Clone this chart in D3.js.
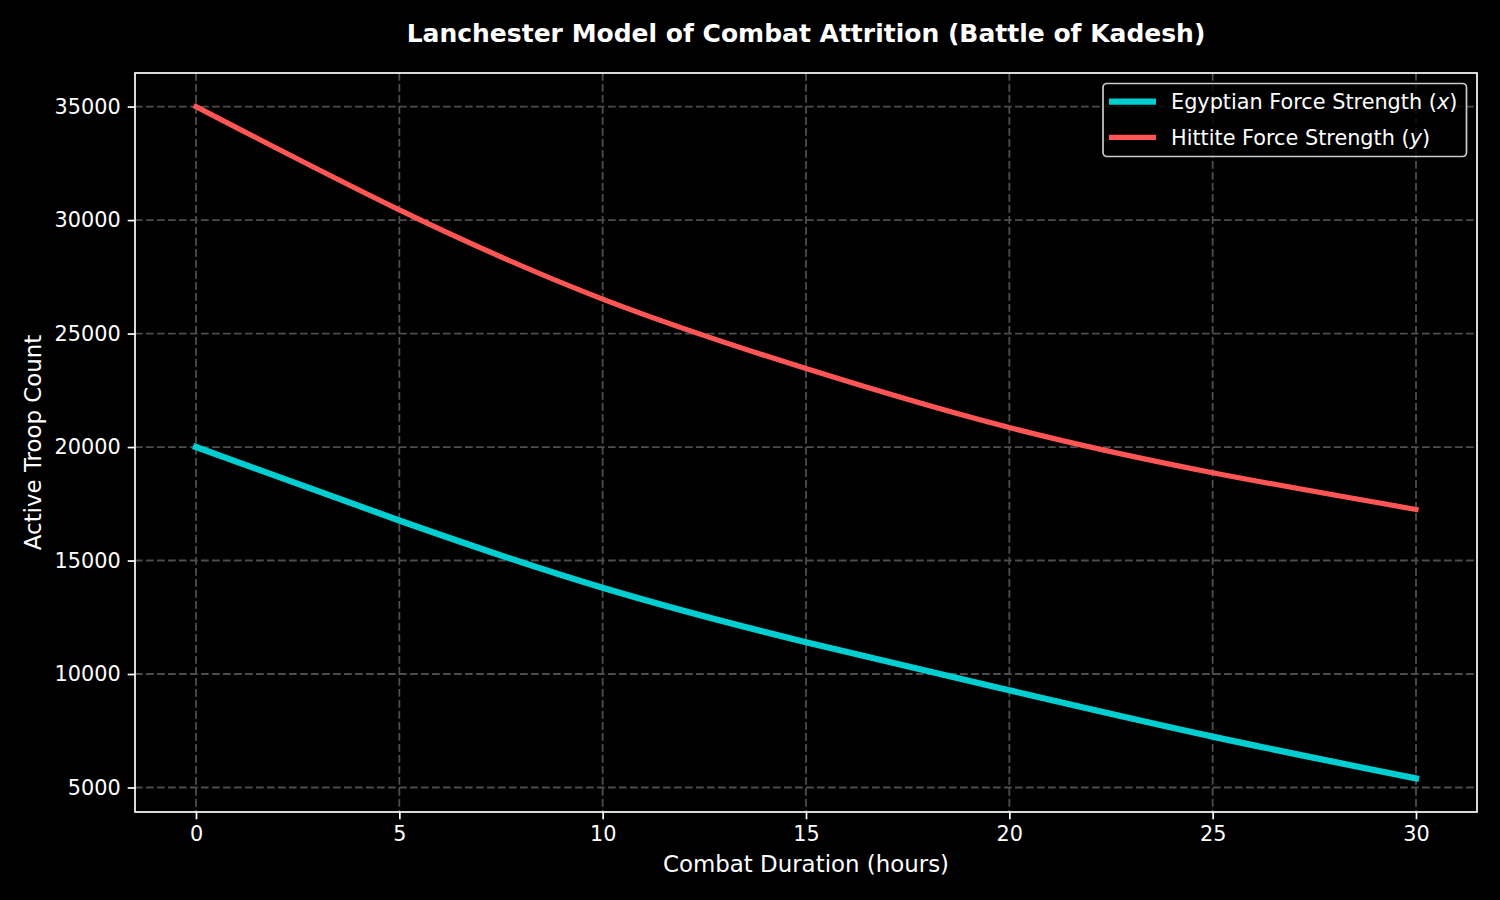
<!DOCTYPE html>
<html>
<head>
<meta charset="utf-8">
<script src="https://cdn.jsdelivr.net/npm/d3@7"></script>
<style>
  html, body { margin: 0; padding: 0; background: #000; }
  svg { display: block; font-family: 'DejaVu Sans', sans-serif; }
</style>
</head>
<body>
<svg id="chart"></svg>
<script>
// values
const hours = [0, 5, 10, 15, 20, 25, 30]
const egyptian = [20000, 16765, 13800, 11400, 9280, 7240, 5400]
const hittite = [35000, 30450, 26520, 23460, 20860, 18870, 17250]
const xTicks = [0, 5, 10, 15, 20, 25, 30]
const yTicks = [5000, 10000, 15000, 20000, 25000, 30000, 35000]

// canvas sizes and plot box
const width = 1500
const height = 900
const plotLeft = 135
const plotRight = 1477
const plotTop = 73
const plotBottom = 812

const svg = d3.select('#chart')
  .attr('width', width)
  .attr('height', height)

svg.append('rect')
  .attr('width', width)
  .attr('height', height)
  .attr('fill', '#000')

// matplotlib style 5% margins
const xMin = d3.min(hours)
const xMax = d3.max(hours)
const xPad = (xMax - xMin) * 0.05
const xScale = d3.scaleLinear()
  .domain([xMin - xPad, xMax + xPad])
  .range([plotLeft, plotRight])

const allY = egyptian.concat(hittite)
const yMin = d3.min(allY)
const yMax = d3.max(allY)
const yPad = (yMax - yMin) * 0.05
const yScale = d3.scaleLinear()
  .domain([yMin - yPad, yMax + yPad])
  .range([plotBottom, plotTop])

// grid
const gridColor = '#4d4d4d'
svg.append('g')
  .selectAll('line')
  .data(xTicks)
  .enter()
  .append('line')
  .attr('x1', (d) => xScale(d))
  .attr('x2', (d) => xScale(d))
  .attr('y1', plotTop)
  .attr('y2', plotBottom)
  .attr('stroke', gridColor)
  .attr('stroke-width', 1.8)
  .attr('stroke-dasharray', '7.7,3.3')

svg.append('g')
  .selectAll('line')
  .data(yTicks)
  .enter()
  .append('line')
  .attr('x1', plotLeft)
  .attr('x2', plotRight)
  .attr('y1', (d) => yScale(d))
  .attr('y2', (d) => yScale(d))
  .attr('stroke', gridColor)
  .attr('stroke-width', 1.8)
  .attr('stroke-dasharray', '7.7,3.3')

// series lines
const series = [
  { name: 'Egyptian Force Strength ', sym: 'x', values: egyptian, color: '#00CED1', lw: 6.2 },
  { name: 'Hittite Force Strength ', sym: 'y', values: hittite, color: '#FF5555', lw: 5.2 }
]

const line = d3.line()
  .x((d) => xScale(d[0]))
  .y((d) => yScale(d[1]))
  .curve(d3.curveNatural)

series.forEach((s) => {
  svg.append('path')
    .datum(hours.map((h, i) => [h, s.values[i]]))
    .attr('d', line)
    .attr('fill', 'none')
    .attr('stroke', s.color)
    .attr('stroke-width', s.lw)
    .attr('stroke-linecap', 'square')
    .attr('stroke-linejoin', 'round')
})

// axes
const xAxis = d3.axisBottom(xScale)
  .tickValues(xTicks)
  .tickSizeOuter(0)
  .tickSize(7.3)
  .tickPadding(7)
svg.append('g')
  .attr('transform', 'translate(0,' + plotBottom + ')')
  .call(xAxis)

const yAxis = d3.axisLeft(yScale)
  .tickValues(yTicks)
  .tickFormat(d3.format('d'))
  .tickSizeOuter(0)
  .tickSize(7.3)
  .tickPadding(7)
svg.append('g')
  .attr('transform', 'translate(' + plotLeft + ',0)')
  .call(yAxis)

svg.selectAll('.domain').remove()
svg.selectAll('.tick line')
  .attr('stroke', '#fff')
  .attr('stroke-width', 1.7)
svg.selectAll('.tick text')
  .attr('fill', '#fff')
  .style('font-size', '20.8px')
  .style('font-family', "'DejaVu Sans', sans-serif")

// frame
svg.append('rect')
  .attr('x', plotLeft)
  .attr('y', plotTop)
  .attr('width', plotRight - plotLeft)
  .attr('height', plotBottom - plotTop)
  .attr('fill', 'none')
  .attr('stroke', '#fff')
  .attr('stroke-width', 1.7)

// titles
svg.append('text')
  .attr('x', (plotLeft + plotRight) / 2)
  .attr('y', 41.5)
  .attr('text-anchor', 'middle')
  .attr('fill', '#fff')
  .style('font-size', '25px')
  .style('font-weight', 'bold')
  .text('Lanchester Model of Combat Attrition (Battle of Kadesh)')

svg.append('text')
  .attr('x', (plotLeft + plotRight) / 2)
  .attr('y', 872)
  .attr('text-anchor', 'middle')
  .attr('fill', '#fff')
  .style('font-size', '22.9px')
  .text('Combat Duration (hours)')

svg.append('text')
  .attr('transform', 'translate(41,' + (plotTop + plotBottom) / 2 + ') rotate(-90)')
  .attr('text-anchor', 'middle')
  .attr('fill', '#fff')
  .style('font-size', '22.9px')
  .text('Active Troop Count')

// legend
const legend = svg.append('g')
legend.append('rect')
  .attr('x', 1103)
  .attr('y', 83.5)
  .attr('width', 363.5)
  .attr('height', 73)
  .attr('rx', 4)
  .attr('fill', '#000')
  .attr('fill-opacity', 0.8)
  .attr('stroke', '#cccccc')
  .attr('stroke-width', 1.7)

series.forEach((s, i) => {
  const cy = 101.7 + i * 35.6
  legend.append('line')
    .attr('x1', 1109)
    .attr('x2', 1156)
    .attr('y1', cy)
    .attr('y2', cy)
    .attr('stroke', s.color)
    .attr('stroke-width', s.lw)
  const t = legend.append('text')
    .attr('x', 1171)
    .attr('y', cy + 7.5)
    .attr('fill', '#fff')
    .style('font-size', '20.8px')
  t.append('tspan').text(s.name + '(')
  t.append('tspan').style('font-style', 'italic').text(s.sym)
  t.append('tspan').text(')')
})
</script>
</body>
</html>
